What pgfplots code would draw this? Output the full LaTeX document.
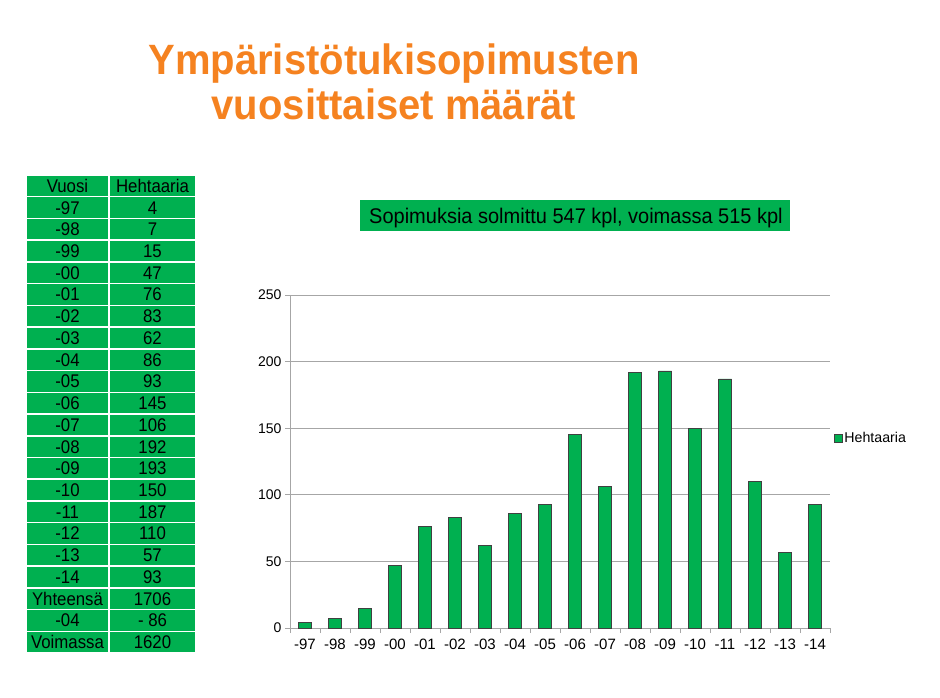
\documentclass[border=0pt]{standalone}
\usepackage{fontspec}
\setmainfont{Liberation Sans}
\usepackage{graphicx}
\usepackage{pgfplots}
\pgfplotsset{compat=1.18}
\definecolor{tgreen}{RGB}{0,176,80}
\definecolor{torange}{RGB}{245,130,32}
\definecolor{axgray}{RGB}{166,166,166}

\begin{document}
\begin{tikzpicture}
\path (0,0) rectangle (940pt,-697pt);
\begin{scope}[x=1pt,y=-1pt]
  % title
  \node[torange,anchor=base,font=\fontsize{40}{40}\selectfont\bfseries] at (394,74) {\scalebox{1}[1.06]{Ympäristötukisopimusten}};
  \node[torange,anchor=base,font=\fontsize{40}{40}\selectfont\bfseries] at (394,119) {\scalebox{1}[1.06]{vuosittaiset määrät}};
  % green caption box
  \fill[tgreen] (360,200) rectangle (790,231);
  \node[anchor=base west,inner sep=0pt,font=\fontsize{20}{20}\selectfont] at (369,223)
    {\scalebox{1}[1.06]{Sopimuksia solmittu 547 kpl, voimassa 515 kpl}};
  % table
  \foreach \a/\b [count=\i from 0] in {Vuosi/Hehtaaria,-97/4,-98/7,-99/15,-00/47,-01/76,-02/83,
      -03/62,-04/86,-05/93,-06/145,-07/106,-08/192,-09/193,-10/150,-11/187,-12/110,-13/57,-14/93,
      Yhteensä/1706,-04/- 86,Voimassa/1620} {
    \pgfmathsetmacro\yt{175+21.73*\i}
    \pgfmathsetmacro\yb{\yt+21.73}
    \pgfmathsetmacro\ym{\yt+10.87+6.4}
    \filldraw[fill=tgreen,draw=white,line width=1.5pt] (26,\yt) rectangle (109,\yb);
    \filldraw[fill=tgreen,draw=white,line width=1.5pt] (109,\yt) rectangle (196,\yb);
    \node[anchor=base,inner sep=0pt,font=\fontsize{16.8}{17}\selectfont] at (67.5,\ym) {\scalebox{1}[1.09]{\a}};
    \node[anchor=base,inner sep=0pt,font=\fontsize{16.8}{17}\selectfont] at (152.5,\ym) {\scalebox{1}[1.09]{\b}};
  }
\end{scope}

\begin{axis}[
  at={(290pt,-628pt)}, anchor=south west,
  scale only axis, width=540pt, height=333pt,
  xmin=-0.5, xmax=17.5, ymin=0, ymax=250,
  ytick={0,50,...,250},
  xtick={-0.5,0.5,...,17.5},
  x tick label as interval,
  xticklabels={-97,-98,-99,-00,-01,-02,-03,-04,-05,-06,-07,-08,-09,-10,-11,-12,-13,-14},
  axis x line*=bottom, axis y line*=left,
  axis line style={axgray,line width=0.75pt,-},
  ymajorgrids, grid style={axgray,line width=0.75pt},
  tick style={axgray,line width=0.75pt},
  tick align=outside, major tick length=5pt,
  tick label style={text=black},
  yticklabel style={font=\fontsize{14}{14}\selectfont},
  xticklabel style={font=\fontsize{15}{15}\selectfont,anchor=base,yshift=-16pt},
  /pgf/number format/assume math mode=true,
  legend style={at={(1,0.57)},xshift=2.5pt,anchor=west,draw=none,fill=none,
    font=\fontsize{14.2}{14}\selectfont,inner sep=1pt},
  legend image code/.code={\draw[fill=tgreen,draw=black!75,line width=0.7pt] (0pt,-4pt) rectangle (8pt,4pt);},
]
\addplot[ybar,bar width=13pt,fill=tgreen,draw=black!75,line width=0.8pt]
  coordinates {(0,4) (1,7) (2,15) (3,47) (4,76) (5,83) (6,62) (7,86) (8,93)
    (9,145) (10,106) (11,192) (12,193) (13,150) (14,187) (15,110) (16,57) (17,93)};
\addlegendentry{Hehtaaria}
\end{axis}
\end{tikzpicture}
\end{document}
